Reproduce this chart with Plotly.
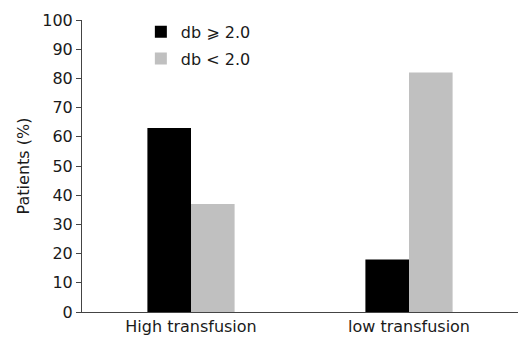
import plotly.graph_objects as go

categories = ["High transfusion", "low transfusion"]
series_names = ["db \u2A7E 2.0", "db < 2.0"]
db_high = [63, 18]
db_low = [37, 82]
y_ticks = list(range(0, 101, 10))

font_family = "DejaVu Sans, Verdana, sans-serif"

fig = go.Figure()
fig.add_trace(go.Bar(x=categories, y=db_high, name=series_names[0], legendgroup="a",
                     marker=dict(color="#000000", line=dict(width=0))))
fig.add_trace(go.Bar(x=categories, y=db_low, name=series_names[1], legendgroup="b",
                     marker=dict(color="#c0c0c0", line=dict(width=0))))

fig.update_layout(
    width=519, height=338,
    margin=dict(l=82, r=1, t=20, b=26),
    paper_bgcolor="white", plot_bgcolor="white",
    barmode="group", bargap=0.6, bargroupgap=0,
    font=dict(family=font_family, size=16, color="#1a1a1a"),
    showlegend=True,
    legend=dict(x=0.135, y=1.018, xanchor="left", yanchor="top",
                bgcolor="rgba(0,0,0,0)", font=dict(size=16),
                itemsizing="constant", traceorder="grouped", tracegroupgap=3),
    xaxis=dict(range=[-0.5, 1.5], showline=True, linecolor="#444", linewidth=1,
               ticks="", showgrid=False, zeroline=False, automargin=False,
               tickfont=dict(size=16), ticklabelstandoff=0),
    yaxis=dict(range=[0, 100], tickvals=y_ticks, showline=True, linecolor="#444",
               linewidth=1, ticks="outside", ticklen=5, tickcolor="#444",
               showgrid=False, zeroline=False, automargin=False,
               tickfont=dict(size=16),
               title=dict(text="Patients (%)", font=dict(size=16), standoff=8)),
)

fig.write_html("out.html")
